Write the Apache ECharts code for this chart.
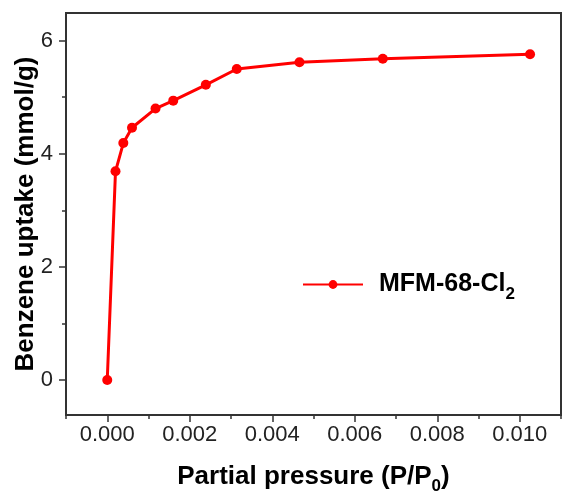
<!DOCTYPE html>
<html>
<head>
<meta charset="utf-8">
<script src="https://cdn.jsdelivr.net/npm/echarts@6/dist/echarts.min.js"></script>
<style>
html,body{margin:0;padding:0;background:#fff;}
#c{width:563px;height:493px;}
</style>
</head>
<body>
<div id="c"></div>
<script>
// Data
const seriesName = 'MFM-68-Cl2';
const pressure = [0, 0.0002, 0.00039, 0.0006, 0.00117, 0.0016, 0.00239, 0.00314, 0.00466, 0.00668, 0.01025];
const uptake   = [0, 3.69, 4.19, 4.46, 4.80, 4.94, 5.22, 5.50, 5.62, 5.68, 5.76];
const xMajorTicks = [0, 0.002, 0.004, 0.006, 0.008, 0.010];
const xMinorTicks = [-0.001, 0.001, 0.003, 0.005, 0.007, 0.009, 0.011];
const yMajorTicks = [0, 2, 4, 6];
const yMinorTicks = [1, 3, 5];
const xRange = [-0.001, 0.011];
const yRange = [-0.62, 6.49];

const FONT = '"Liberation Sans", Arial, sans-serif';
const AX = '#333333';
const RED = '#ff0000';

const chart = echarts.init(document.getElementById('c'), null, {renderer: 'canvas'});
const data = pressure.map((p, i) => [p, uptake[i]]);

chart.setOption({
  animation: false,
  backgroundColor: '#ffffff',
  grid: {
    left: 66, right: 2, top: 13, bottom: 78,
    outerBoundsMode: 'none', containLabel: false,
    show: true, borderColor: AX, borderWidth: 2, backgroundColor: 'transparent'
  },
  legend: {
    data: [seriesName],
    left: 302, top: 272, padding: 0,
    itemWidth: 60, itemHeight: 11,
    formatter: () => '{a|MFM-68-Cl}{s|2}',
    textStyle: {
      rich: {
        a: {fontFamily: FONT, fontSize: 25, fontWeight: 'bold', color: '#000', padding: [0, 0, 0, 11]},
        s: {fontFamily: FONT, fontSize: 17, fontWeight: 'bold', color: '#000', padding: [20, 0, 0, 0]}
      }
    }
  },
  xAxis: [{
    type: 'value', min: xRange[0], max: xRange[1],
    splitLine: {show: false},
    axisLine: {show: true, onZero: false, lineStyle: {color: AX, width: 2}},
    axisTick: {show: true, customValues: xMajorTicks, length: 7, inside: false, lineStyle: {color: AX, width: 1.5}},
    axisLabel: {customValues: xMajorTicks, formatter: v => v.toFixed(3), fontFamily: FONT, fontSize: 22, color: '#222', margin: 9},
    name: '{a|Partial pressure (P/P}{s|0}{a|)}',
    nameLocation: 'middle', nameGap: 43, nameMoveOverlap: false,
    nameTextStyle: {
      rich: {
        a: {fontFamily: FONT, fontSize: 26, fontWeight: 'bold', color: '#000'},
        s: {fontFamily: FONT, fontSize: 17, fontWeight: 'bold', color: '#000', padding: [20, 0, 0, 0]}
      }
    }
  }, {
    type: 'value', min: xRange[0], max: xRange[1], position: 'bottom',
    splitLine: {show: false},
    axisLine: {show: false, onZero: false},
    axisTick: {show: true, customValues: xMinorTicks, length: 4, lineStyle: {color: AX, width: 1.5}},
    axisLabel: {show: false}
  }],
  yAxis: [{
    type: 'value', min: yRange[0], max: yRange[1],
    splitLine: {show: false},
    axisLine: {show: true, onZero: false, lineStyle: {color: AX, width: 2}},
    axisTick: {show: true, customValues: yMajorTicks, length: 7, lineStyle: {color: AX, width: 1.5}},
    axisLabel: {customValues: yMajorTicks, formatter: v => String(v), fontFamily: FONT, fontSize: 22, color: '#222', margin: 13},
    name: 'Benzene uptake (mmol/g)',
    nameLocation: 'middle', nameGap: 27, nameMoveOverlap: false,
    nameTextStyle: {fontFamily: FONT, fontSize: 26, fontWeight: 'bold', color: '#000'}
  }, {
    type: 'value', min: yRange[0], max: yRange[1], position: 'left',
    splitLine: {show: false},
    axisLine: {show: false, onZero: false},
    axisTick: {show: true, customValues: yMinorTicks, length: 4, lineStyle: {color: AX, width: 1.5}},
    axisLabel: {show: false}
  }],
  series: [{
    name: seriesName,
    type: 'line',
    xAxisIndex: 0, yAxisIndex: 0,
    data: data,
    symbol: 'circle', symbolSize: 10,
    itemStyle: {color: RED},
    lineStyle: {color: RED, width: 3}
  }]
});
</script>
</body>
</html>
